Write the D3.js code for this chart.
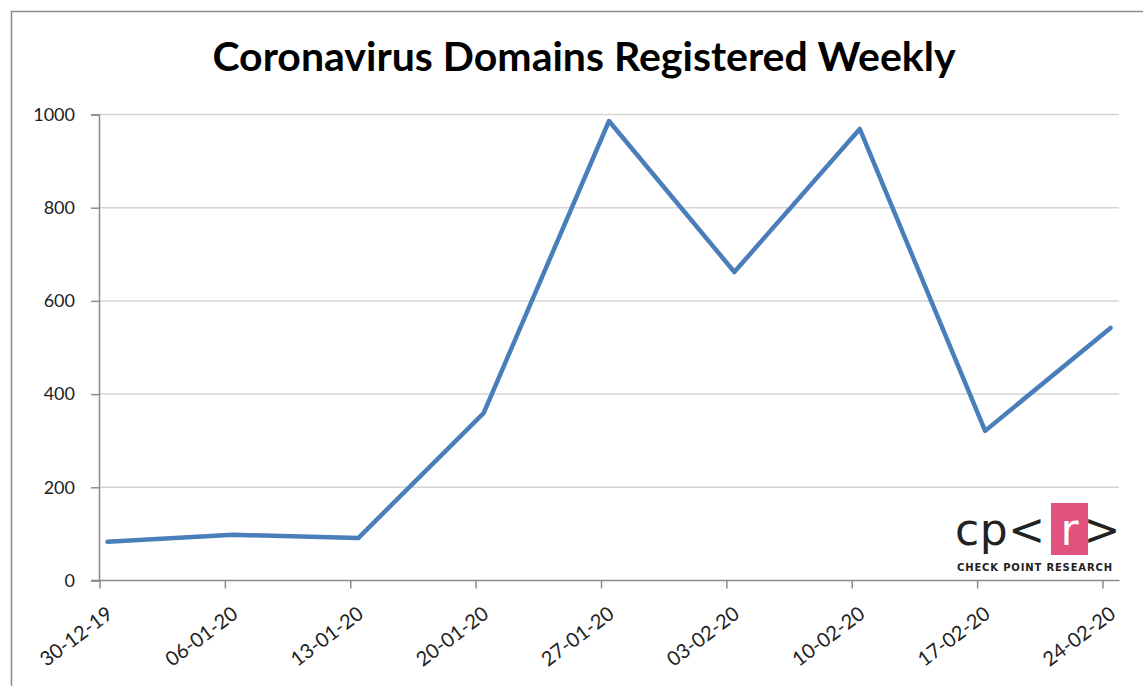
<!DOCTYPE html>
<html>
<head>
<meta charset="utf-8">
<script src="https://cdn.jsdelivr.net/npm/d3@7"></script>
<style>
  body { margin: 0; background: #fff; }
  svg { display: block; font-family: Lato, "Open Sans", sans-serif; }
</style>
</head>
<body>
<div id="chart"></div>
<script>
// weekly registrations
const weeks = ["30-12-19", "06-01-20", "13-01-20", "20-01-20", "27-01-20",
               "03-02-20", "10-02-20", "17-02-20", "24-02-20"];
const domains = [82, 97, 90, 358, 985, 661, 968, 320, 541];
const yTicks = [0, 200, 400, 600, 800, 1000];

const width = 1143, height = 686;
const margin = {top: 114, bottom: 106, left: 99, right: 41};

const svg = d3.select("#chart")
    .append("svg")
    .attr("width", width)
    .attr("height", height);

// outer chart border (right and bottom are cut off in the picture)
svg.append("rect")
    .attr("x", 11.5)
    .attr("y", 11.5)
    .attr("width", 1200)
    .attr("height", 800)
    .attr("fill", "none")
    .attr("stroke", "#8c8c8c")
    .attr("stroke-width", 1.5);

const x = d3.scalePoint()
    .domain(weeks)
    .range([margin.left, 1102]);

// points sit slightly right of their tick marks in the original
const pointShift = 8.5;

const y = d3.scaleLinear()
    .domain([0, 1000])
    .range([height - margin.bottom, margin.top]);

// gridlines
svg.append("g")
    .selectAll("line")
    .data(yTicks.filter(d => d > 0))
    .join("line")
    .attr("x1", margin.left)
    .attr("x2", width - margin.right + 17)
    .attr("y1", d => y(d) + 0.5)
    .attr("y2", d => y(d) + 0.5)
    .attr("stroke", "#d4d4d4")
    .attr("stroke-width", 1.5);

// y axis
const yAxis = svg.append("g")
    .attr("transform", `translate(${margin.left},0.5)`)
    .call(d3.axisLeft(y).tickValues(yTicks).tickFormat(d3.format("d")).tickSize(8).tickPadding(16))
    .attr("font-family", null)
    .attr("font-size", null);
yAxis.select(".domain").attr("stroke", "#8c8c8c").attr("stroke-width", 1.5);
yAxis.selectAll(".tick line").attr("stroke", "#8c8c8c").attr("stroke-width", 1.5);
yAxis.selectAll("text")
    .style("font-size", "18px")
    .style("fill", "#222");

// x axis
const xAxis = svg.append("g")
    .attr("transform", `translate(0.5,${height - margin.bottom + 0.5})`)
    .call(d3.axisBottom(x).tickSize(8).tickSizeOuter(0))
    .attr("font-family", null)
    .attr("font-size", null);
xAxis.select(".domain")
    .attr("d", `M${margin.left - 8},0H${width - margin.right + 17}`)
    .attr("stroke", "#8c8c8c").attr("stroke-width", 1.5);
xAxis.selectAll(".tick line").attr("stroke", "#8c8c8c").attr("stroke-width", 1.5);
xAxis.selectAll("text")
    .attr("text-anchor", "end")
    .attr("dy", 0)
    .attr("y", 0)
    .attr("transform", "translate(14,36) rotate(-37)")
    .style("font-size", "20px")
    .style("fill", "#222");

// line
const line = d3.line()
    .x((d, i) => x(weeks[i]) + pointShift)
    .y(d => y(d));

svg.append("path")
    .datum(domains)
    .attr("d", line)
    .attr("fill", "none")
    .attr("stroke", "#4a7ebb")
    .attr("stroke-width", 4.5)
    .attr("stroke-linejoin", "round")
    .attr("stroke-linecap", "round");

// title
svg.append("text")
    .attr("x", 584)
    .attr("y", 71)
    .attr("text-anchor", "middle")
    .style("font-size", "41px")
    .style("font-weight", "bold")
    .style("fill", "#000")
    .text("Coronavirus Domains Registered Weekly");

// Check Point Research logo
const logo = svg.append("g").attr("transform", "translate(955,545)");
logo.append("rect")
    .attr("x", 96)
    .attr("y", -42)
    .attr("width", 37)
    .attr("height", 52)
    .attr("fill", "#e2527e");
logo.append("text")
    .attr("x", 0)
    .attr("y", 0)
    .style("font-family", "'DejaVu Sans', sans-serif")
    .style("font-size", "44px")
    .attr("fill", "#222")
    .attr("textLength", 90)
    .text("cp<");
logo.append("text")
    .attr("x", 114.5)
    .attr("y", 0)
    .attr("text-anchor", "middle")
    .style("font-family", "'DejaVu Sans', sans-serif")
    .style("font-size", "44px")
    .attr("fill", "#fff")
    .text("r");
logo.append("text")
    .attr("x", 147)
    .attr("y", 0)
    .attr("text-anchor", "middle")
    .style("font-family", "'DejaVu Sans', sans-serif")
    .style("font-size", "44px")
    .attr("fill", "#222")
    .attr("textLength", 20)
    .text(">");
logo.append("text")
    .attr("x", 2)
    .attr("y", 26)
    .attr("textLength", 156)
    .style("font-family", "'DejaVu Sans', sans-serif")
    .style("font-size", "10px")
    .style("font-weight", "bold")
    .style("letter-spacing", "1px")
    .attr("fill", "#222")
    .text("CHECK POINT RESEARCH");
</script>
</body>
</html>
